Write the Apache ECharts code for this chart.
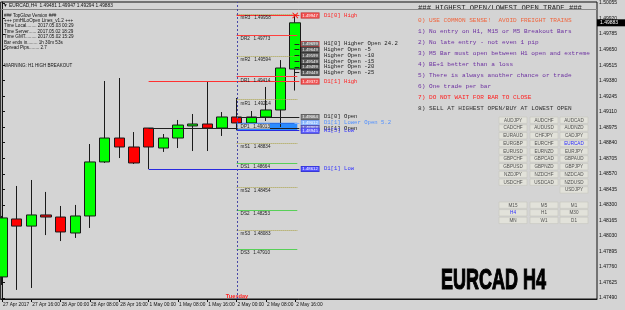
<!DOCTYPE html>
<html>
<head>
<meta charset="utf-8">
<script src="https://cdn.jsdelivr.net/npm/echarts@6/dist/echarts.min.js"></script>
<style>
  html, body { margin: 0; padding: 0; background: #d4d4d4; }
  #chart { width: 625px; height: 310px; }
</style>
</head>
<body>
<div id="chart"></div>
<script>
// EURCAD H4, bar 0 = 27 Apr 08:00, one bar every 4 hours
const opens  = [1.47673, 1.48177, 1.48115, 1.48212, 1.48194, 1.48055, 1.48203, 1.48673, 1.48881, 1.48803, 1.48968,
                1.48794, 1.48881, 1.48986, 1.49003, 1.48968, 1.49064, 1.49012, 1.49064, 1.49125, 1.49481];
const closes = [1.48186, 1.48115, 1.48212, 1.48194, 1.48064, 1.48203, 1.48673, 1.48881, 1.48803, 1.48664, 1.48803,
                1.48881, 1.48994, 1.49003, 1.48968, 1.49064, 1.49012, 1.49064, 1.49125, 1.49490, 1.49883];
const lows   = [1.47603, 1.47560, 1.47577, 1.48037, 1.47985, 1.48012, 1.48099, 1.48664, 1.48707, 1.48655, 1.48612,
                1.48760, 1.48794, 1.48768, 1.48768, 1.48899, 1.48951, 1.48968, 1.49029, 1.48977, 1.49294];
const highs  = [1.48203, 1.48464, 1.48516, 1.48412, 1.48290, 1.48299, 1.48829, 1.49377, 1.49403, 1.48933, 1.48968,
                1.48916, 1.49038, 1.49090, 1.49372, 1.49107, 1.49229, 1.49116, 1.49325, 1.49559, 1.49947];

const timeTicks  = [0, 2, 4, 6, 8, 10, 12, 14, 16, 18, 20];
const timeLabels = ['27 Apr 2017', '27 Apr 16:00', '28 Apr 00:00', '28 Apr 08:00', '28 Apr 16:00', '1 May 00:00',
                    '1 May 08:00', '1 May 16:00', '2 May 00:00', '2 May 08:00', '2 May 16:00'];
const priceTicks = [1.50055, 1.49920, 1.49785, 1.49650, 1.49515, 1.49380, 1.49245, 1.49110, 1.48975, 1.48840,
                    1.48705, 1.48570, 1.48435, 1.48300, 1.48165, 1.48030, 1.47895, 1.47760, 1.47625, 1.47490];

const bid = 1.49883;
const todayBar = 16;       // 2 May 00:00
const yesterdayBar = 10;   // 1 May 00:00

const pivotNames  = ['mR3', 'DR2', 'mR2', 'DR1', 'mR1', 'DP1', 'mS1', 'DS1', 'mS2', 'DS2', 'mS3', 'DS3'];
const pivotPrices = [1.49958, 1.49773, 1.49594, 1.49414, 1.49214, 1.49013, 1.48834, 1.48664, 1.48454, 1.48253, 1.48083, 1.47910];
const pivotZone   = [1.49013, 1.48943];

const levelNames  = ['D1[0] High', 'H1[0] Higher Open 24.2', 'Higher Open -5', 'Higher Open -10', 'Higher Open -15',
                     'Higher Open -20', 'Higher Open -25', 'D1[1] High', 'D1[0] Open', 'D1[1] Lower Open 5.2',
                     'D1[1] Open', 'H1[5] Low', 'D1[1] Low'];
const levelPrices = [1.49947, 1.49699, 1.49649, 1.49599, 1.49549, 1.49499, 1.49449, 1.49372, 1.49064, 1.49012,
                     1.48968, 1.48945, 1.48612];

const infoLines = ['### TopGlow Version ###', '+++ pmHiLoOpen Lines_v1.2 +++',
                   'Time Local........ 2017.05.03 00:29', 'Time Server...... 2017.05.02 18:29',
                   'Time GMT......... 2017.05.02 15:29', 'Bar ends in........ 1h 30m 53s', 'Spread Pips........ 2.7'];
const ruleLines = ['### HIGHEST OPEN/LOWEST OPEN TRADE ###',
                   '0) USE COMMON SENSE!  AVOID FREIGHT TRAINS',
                   '1) No entry on H1, M15 or M5 Breakout Bars',
                   '2) No late entry - not even 1 pip',
                   '3) M5 Bar must open between H1 open and extreme',
                   '4) BE+1 better than a loss',
                   '5) There is always another chance or trade',
                   '6) One trade per bar',
                   '7) DO NOT WAIT FOR BAR TO CLOSE',
                   '8) SELL AT HIGHEST OPEN/BUY AT LOWEST OPEN'];
const symbols = ['AUDJPY', 'AUDCHF', 'AUDCAD', 'CADCHF', 'AUDUSD', 'AUDNZD', 'EURAUD', 'CHFJPY', 'CADJPY',
                 'EURGBP', 'EURCHF', 'EURCAD', 'EURUSD', 'EURNZD', 'EURJPY', 'GBPCHF', 'GBPCAD', 'GBPAUD',
                 'GBPUSD', 'GBPNZD', 'GBPJPY', 'NZDJPY', 'NZDCHF', 'NZDCAD', 'USDCHF', 'USDCAD', 'NZDUSD',
                 '', '', 'USDJPY'];
const timeframes = ['M15', 'M5', 'M1', 'H4', 'H1', 'M30', 'MN', 'W1', 'D1'];

// styles
const MONO = 'Liberation Mono';
const SANS = 'Liberation Sans';
const lineEnd = 20.28;
const xMax = 40.58;
const levelStyle = {
  'D1[0] High':             { from: todayBar, line: '#ff3030', box: '#f05050', edge: '#c02020', txt: '#ff2020' },
  'H1[0] Higher Open 24.2': { from: 19.95, line: '#202020', box: '#707070', edge: '#e03030', txt: '#202020' },
  'Higher Open':            { from: 19.95, line: '#202020', box: '#5a5a5a', edge: '#202020', txt: '#202020' },
  'D1[1] High':             { from: yesterdayBar, line: '#ff3030', box: '#f05050', edge: '#c02020', txt: '#ff2020' },
  'D1[0] Open':             { from: todayBar, line: '#202020', box: '#808080', edge: '#505050', txt: '#202020' },
  'D1[1] Lower Open 5.2':   { from: 19.95, line: '#7fb0ff', box: '#8ab8ff', edge: '#6a90e0', txt: '#4f8fff' },
  'D1[1] Open':             { from: yesterdayBar, line: '#202020', box: '#7a7ad8', edge: '#4040a0', txt: '#202020' },
  'H1[5] Low':              { from: todayBar, line: '#2a2ae0', box: '#5a5aff', edge: '#3030c0', txt: '#3a3aff' },
  'D1[1] Low':              { from: yesterdayBar, line: '#2a2ae0', box: '#5050ff', edge: '#2a2ac0', txt: '#3030ff' }
};
function pivotStyle(name) {
  if (name[0] === 'm') return { color: '#a8a040', type: 'dotted' };
  if (name[1] === 'R') return { color: '#ff4040', type: 'solid' };
  if (name[1] === 'S') return { color: '#58d058', type: 'solid' };
  return { color: '#2a6fe8', type: 'solid' };
}

const candleData = opens.map((o, i) => [i, o, closes[i], lows[i], highs[i]]);

const markLines = [];
pivotNames.forEach((name, i) => {
  const st = pivotStyle(name);
  markLines.push([
    { coord: [todayBar, pivotPrices[i]], lineStyle: { color: st.color, type: st.type, width: 1 },
      label: { show: true, position: 'insideStartBottom', distance: 1, padding: [0, 0, 0, 3],
               formatter: name + '   ' + pivotPrices[i].toFixed(5), fontFamily: SANS, fontSize: 4.6, color: '#202020',
               backgroundColor: name === 'DP1' ? '#d4d4d4' : 'transparent' } },
    { coord: [20.14, pivotPrices[i]] }
  ]);
});
levelNames.forEach((name, i) => {
  const st = levelStyle[name] || levelStyle['Higher Open'];
  markLines.push([
    { coord: [st.from, levelPrices[i]], lineStyle: { color: st.line, type: 'solid', width: 1 },
      label: { show: true, position: 'end', distance: 2,
               formatter: '{bx|' + levelPrices[i].toFixed(5) + '}{tx|' + name + '}',
               rich: {
                 bx: { backgroundColor: st.box, borderColor: st.edge, borderWidth: 0.6, color: '#fff',
                       fontFamily: SANS, fontSize: 4.3, padding: [0.6, 1, 0.2, 1] },
                 tx: { color: st.txt, fontFamily: MONO, fontSize: 5.6, padding: [0, 0, 0, 5] }
               } } },
    { coord: [lineEnd, levelPrices[i]] }
  ]);
});
// bid line
markLines.push({ yAxis: bid, lineStyle: { color: '#8a8a8a', type: 'solid', width: 1 }, label: { show: false } });
// Tuesday separator
markLines.push({ xAxis: todayBar + 0.05, lineStyle: { color: '#4848a8', type: [2, 2], width: 1 }, label: { show: false } });

const graphics = [];
graphics.push({ type: 'text', left: 3, top: 3, style: { text: '\u25BC EURCAD,H4  1.49481 1.49947 1.49294 1.49883',
  fontFamily: SANS, fontSize: 4.8, fill: '#111' } });
infoLines.forEach((t, k) => {
  graphics.push({ type: 'text', left: 4, top: [13, 18.5, 23.5, 29, 34.5, 40, 45.5][k],
    style: { text: t, fontFamily: SANS, fontSize: 4.6, fill: '#111' } });
});
graphics.push({ type: 'text', left: 4, top: 63.5, style: { text: 'WARNING: H1 HIGH BREAKOUT', fontFamily: SANS, fontSize: 4.5, fill: '#111' } });

const ruleY = [8.5, 20, 31.5, 42.5, 53.5, 64.5, 75.5, 86.5, 97.5, 108.5];
const ruleColors = ['#202020', '#f0643c', '#6b2fa0', '#6b2fa0', '#6b2fa0', '#6b2fa0', '#6b2fa0', '#6b2fa0', '#ff2020', '#303030'];
ruleLines.forEach((t, k) => {
  graphics.push({ type: 'text', x: 418, y: ruleY[k],
    style: { text: t, fontFamily: MONO, fontSize: k === 0 ? 7.2 : 6.1, fill: ruleColors[k], verticalAlign: 'middle' } });
});

const colX = [499, 530, 560];
function button(label, x, y, active) {
  graphics.push({ type: 'rect', shape: { x: x, y: y, width: 28, height: 6.4 },
    style: { fill: '#e2e2da', stroke: '#c6c6be', lineWidth: 0.6 } });
  graphics.push({ type: 'text', x: x + 14, y: y + 3.4,
    style: { text: label, fontFamily: SANS, fontSize: 4.6, fill: active ? '#2a2aff' : '#505050',
             align: 'center', verticalAlign: 'middle' } });
}
symbols.forEach((s, k) => {
  if (!s) return;
  button(s, colX[k % 3], 117 + Math.floor(k / 3) * 7.75, s === 'EURCAD');
});
timeframes.forEach((s, k) => {
  button(s, colX[k % 3], 202 + Math.floor(k / 3) * 7.6, s === 'H4');
});

graphics.push({ type: 'text', x: 441, y: 281, scaleX: 0.62,
  style: { text: 'EURCAD H4', fontFamily: SANS, fontWeight: 'bold', fontSize: 29, fill: '#000',
           stroke: '#000', lineWidth: 1.2, verticalAlign: 'middle' } });
graphics.push({ type: 'text', x: 237, y: 296, style: { text: 'Tuesday', fontFamily: SANS, fontWeight: 'bold',
  fontSize: 5.6, fill: '#ff2020', align: 'center', verticalAlign: 'middle' } });

const chart = echarts.init(document.getElementById('chart'), null, { renderer: 'canvas' });
const option = {
  animation: false,
  backgroundColor: '#d4d4d4',
  grid: { left: 0, top: 2, right: 28, bottom: 11, show: true, borderColor: '#111', borderWidth: 1, backgroundColor: 'transparent' },
  xAxis: {
    type: 'value', min: -0.09, max: xMax, position: 'bottom',
    axisLine: { show: true, onZero: false, lineStyle: { color: '#111', width: 1 } },
    axisTick: { show: true, length: 3, customValues: timeTicks, lineStyle: { color: '#111' } },
    axisLabel: { customValues: timeTicks, formatter: v => timeLabels[timeTicks.indexOf(Math.round(v))] || '',
                 align: 'left', margin: 3, padding: [0, 0, 0, 1], fontFamily: SANS, fontSize: 4.8, color: '#111' },
    splitLine: { show: false }
  },
  yAxis: {
    type: 'value', position: 'right', min: 1.47481, max: 1.50064, scale: true,
    axisLine: { show: true, lineStyle: { color: '#111', width: 1 } },
    axisTick: { show: true, length: 3, customValues: priceTicks, lineStyle: { color: '#111' } },
    axisLabel: { customValues: priceTicks, formatter: v => v.toFixed(5), margin: 2,
                 fontFamily: SANS, fontSize: 5, color: '#111' },
    splitLine: { show: false }
  },
  series: [{
    type: 'candlestick',
    data: candleData,
    encode: { x: 0, y: [1, 2, 3, 4] },
    barWidth: 11,
    itemStyle: { color: '#00ff00', color0: '#ff0000', borderColor: '#1a1a1a', borderColor0: '#1a1a1a', borderWidth: 1 },
    markArea: {
      silent: true,
      itemStyle: { color: '#2a8cff', opacity: 1 },
      data: [[{ coord: [todayBar, pivotZone[0]] }, { coord: [20.14, pivotZone[1]] }]]
    },
    markLine: { silent: true, symbol: ['none', 'none'], animation: false, data: markLines },
    markPoint: {
      silent: true,
      data: [{ coord: [20, highs[20]], symbol: 'path://M0,1L1,0L5,4L9,0L10,1L6,5L10,9L9,10L5,6L1,10L0,9L4,5Z',
               symbolSize: 6, itemStyle: { color: '#ff1010' }, label: { show: false } }]
    }
  }],
  graphic: graphics
};
chart.setOption(option);

// current price box on the price scale
const bidPx = chart.convertToPixel({ gridIndex: 0 }, [xMax, bid]);
graphics.push({ type: 'rect', shape: { x: bidPx[0], y: bidPx[1] - 3.5, width: 28, height: 7 }, style: { fill: '#000' }, z: 100 });
graphics.push({ type: 'text', x: bidPx[0] + 3, y: bidPx[1], z: 101,
  style: { text: bid.toFixed(5), fontFamily: SANS, fontSize: 5, fill: '#fff', verticalAlign: 'middle' } });
chart.setOption({ graphic: graphics });
</script>
</body>
</html>
